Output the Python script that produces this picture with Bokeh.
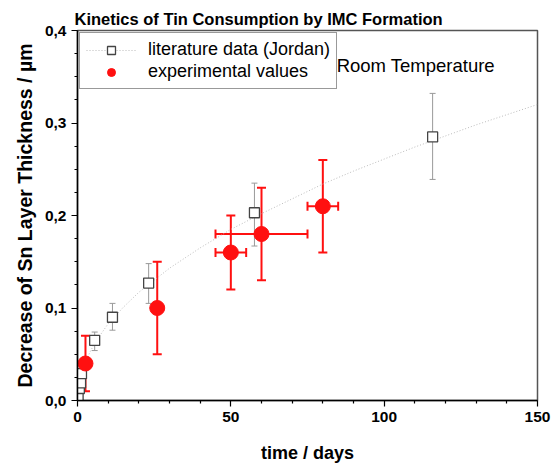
from bokeh.plotting import figure
from bokeh.models import (ColumnDataSource, Whisker, TeeHead, FixedTicker, CustomJSTickFormatter,
                          Legend, LegendItem, Label, Range1d)
from bokeh.embed import file_html
from bokeh.resources import INLINE

# literature data (Jordan)
lit_t = [0.2, 0.6, 1.0, 1.3, 5.6, 11.4, 23.2, 57.7, 115.8]
lit_y = [0.005, 0.013, 0.019, 0.029, 0.065, 0.090, 0.127, 0.203, 0.285]
lit_lo = [0.005, 0.013, 0.019, 0.029, 0.054, 0.076, 0.105, 0.167, 0.239]
lit_hi = [0.005, 0.013, 0.019, 0.029, 0.074, 0.105, 0.148, 0.235, 0.332]

# dotted fit curve
fit_t = [0, 0.5, 1, 2, 4, 6, 10, 15, 20, 30, 40, 50, 60, 70, 80, 90, 100, 110, 120, 130, 140, 150]
fit_y = [0, 0.018, 0.026, 0.037, 0.052, 0.064, 0.083, 0.101, 0.117, 0.143, 0.165, 0.185,
         0.202, 0.218, 0.234, 0.248, 0.261, 0.274, 0.286, 0.298, 0.309, 0.320]

# experimental values
exp_t = [2.6, 26, 50, 60, 80]
exp_y = [0.04, 0.10, 0.16, 0.18, 0.21]
exp_ylo = [0.01, 0.05, 0.12, 0.13, 0.16]
exp_yhi = [0.07, 0.15, 0.20, 0.23, 0.26]
exp_tlo = [2.6, 26, 45, 45, 75]
exp_thi = [2.6, 26, 55, 75, 85]

x_ticks = [0, 50, 100, 150]
x_minor = [10, 20, 30, 40, 60, 70, 80, 90, 110, 120, 130, 140]
y_ticks = [0.0, 0.1, 0.2, 0.3, 0.4]
y_minor = [0.025, 0.05, 0.075, 0.125, 0.15, 0.175, 0.225, 0.25, 0.275, 0.325, 0.35, 0.375]

FONT = "Liberation Sans"

p = figure(width=553, height=465, output_backend="svg", toolbar_location=None,
           x_range=Range1d(0, 150), y_range=Range1d(0, 0.4),
           min_border_left=77, min_border_right=16, min_border_top=30, min_border_bottom=65)
p.grid.visible = False
p.outline_line_color = "#555555"
p.outline_line_width = 1.5
p.background_fill_color = "white"

p.title.text = "Kinetics of Tin Consumption by IMC Formation"
p.title.text_font = FONT
p.title.text_font_size = "16.5px"
p.title.text_font_style = "bold"
p.title.text_color = "black"
p.title.align = "left"
p.title.offset = -3
p.title.standoff = 6

for ax in (p.xaxis[0], p.yaxis[0]):
    ax.axis_line_width = 1.5
    ax.axis_line_color = "black"
    ax.major_tick_in = 0
    ax.major_tick_out = 6
    ax.minor_tick_in = 0
    ax.minor_tick_out = 3
    ax.major_tick_line_width = 1.2
    ax.minor_tick_line_width = 1.2
    ax.major_label_text_font = FONT
    ax.major_label_text_font_size = "15.5px"
    ax.major_label_text_font_style = "bold"
    ax.major_label_text_color = "black"
    ax.axis_label_text_font = FONT
    ax.axis_label_text_font_style = "bold"
    ax.axis_label_text_color = "black"

p.xaxis.axis_label_text_font_size = "18px"
p.yaxis.axis_label_text_font_size = "19.5px"
p.xaxis.ticker = FixedTicker(ticks=x_ticks, minor_ticks=x_minor)
p.yaxis.ticker = FixedTicker(ticks=y_ticks, minor_ticks=y_minor)
p.yaxis.formatter = CustomJSTickFormatter(code="return tick.toFixed(1).replace('.', ',');")
p.xaxis.axis_label = "time / days"
p.yaxis.axis_label = "Decrease of Sn Layer Thickness / µm"
p.xaxis.axis_label_standoff = 18
p.yaxis.axis_label_standoff = 6

# fit curve
fit_r = p.line(fit_t, fit_y, line_color="#bbbbbb", line_width=1, line_dash="1 2")

# literature error bars + squares
lit_src = ColumnDataSource(dict(t=lit_t, y=lit_y, lo=lit_lo, hi=lit_hi))
lw = Whisker(base="t", lower="lo", upper="hi", dimension="height", source=lit_src,
             line_color="#999999", line_width=1,
             upper_head=TeeHead(size=6, line_color="#999999", line_width=1),
             lower_head=TeeHead(size=6, line_color="#999999", line_width=1))
p.add_layout(lw)
lit_r = p.scatter("t", "y", source=lit_src, marker="square", size=10,
                  fill_color="white", line_color="#444444", line_width=1.3)

# experimental error bars + circles
exp_src = ColumnDataSource(dict(t=exp_t, y=exp_y, ylo=exp_ylo, yhi=exp_yhi, tlo=exp_tlo, thi=exp_thi))
RED = "#ff1010"
ew = Whisker(base="t", lower="ylo", upper="yhi", dimension="height", source=exp_src,
             line_color=RED, line_width=2,
             upper_head=TeeHead(size=9, line_color=RED, line_width=2),
             lower_head=TeeHead(size=9, line_color=RED, line_width=2))
p.add_layout(ew)
ex = Whisker(base="y", lower="tlo", upper="thi", dimension="width", source=exp_src,
             line_color=RED, line_width=2,
             upper_head=TeeHead(size=9, line_color=RED, line_width=2),
             lower_head=TeeHead(size=9, line_color=RED, line_width=2))
p.add_layout(ex)
exp_r = p.scatter("t", "y", source=exp_src, marker="circle", size=15,
                  fill_color=RED, line_color=RED)

legend = Legend(items=[LegendItem(label="literature data (Jordan)", renderers=[fit_r, lit_r]),
                       LegendItem(label="experimental values", renderers=[exp_r])],
                location="top_left")
legend.margin = 2
legend.padding = 6
legend.spacing = 1
legend.glyph_width = 50
legend.glyph_height = 20
legend.label_height = 20
legend.label_standoff = 12
legend.label_text_font = FONT
legend.label_text_font_size = "18px"
legend.label_text_color = "black"
legend.border_line_color = "#333333"
legend.border_line_width = 1.2
legend.background_fill_alpha = 1
p.add_layout(legend)

p.add_layout(Label(x=84.5, y=0.362, text="Room Temperature", text_font=FONT,
                   text_font_size="18.5px", text_baseline="middle", text_color="black"))

open("out.html", "w").write(file_html(p, INLINE))
